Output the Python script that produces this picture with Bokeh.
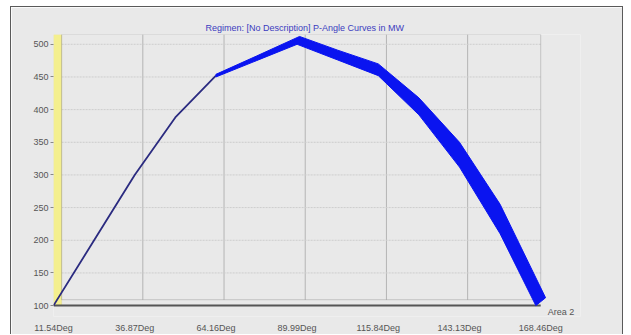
from bokeh.plotting import figure
from bokeh.models import BoxAnnotation, Label, FixedTicker, Range1d
from bokeh.embed import file_html
from bokeh.resources import INLINE

# ---- data ----
tick_pos = [0, 1, 2, 3, 4, 5, 6]
tick_labels = ["11.54Deg", "36.87Deg", "64.16Deg", "89.99Deg",
               "115.84Deg", "143.13Deg", "168.46Deg"]
y_ticks = [100, 150, 200, 250, 300, 350, 400, 450, 500]

thin_x = [0, 0.5, 1, 1.5, 2]
thin_y = [100, 200, 300, 388, 452]

upper_x = [2, 2.5, 3.03, 3.5, 4, 4.5, 5, 5.5, 6.06]
upper_y = [454, 482, 512, 491, 470, 418, 350, 255, 112]
lower_x = [2, 2.5, 3, 3.5, 4, 4.5, 5, 5.5, 5.94]
lower_y = [450, 475, 500, 476, 452, 392, 312, 210, 100]

title_text = "Regimen: [No Description] P-Angle Curves in MW"
series_name = "Area 2"

FONT = "Liberation Sans"
Y_TOP = 515
FRAME_LEFT = 0.1      # inner frame left edge (index units)
FRAME_BOTTOM = 109    # inner frame bottom edge (MW)

p = figure(width=613, height=328, output_backend="svg", toolbar_location=None,
           x_range=Range1d(0, 6.49), y_range=Range1d(83.3, Y_TOP),
           min_border_left=42, min_border_right=44, min_border_top=27,
           min_border_bottom=17)
p.margin = (6, 0, 0, 10)
p.styles = {"border-left": "1px solid #5a5a5a", "border-top": "1px solid #5a5a5a",
            "border-right": "1px solid #5a5a5a"}
p.background_fill_color = "#e9e9e9"
p.border_fill_color = "#e9e9e9"
p.outline_line_color = None

# title
p.title.text = title_text
p.title.align = "left"
p.title.offset = 152
p.title.text_font = FONT
p.title.text_font_size = "9px"
p.title.text_font_style = "normal"
p.title.text_color = "#3c3cc0"
p.title.standoff = 3

# axes
p.xaxis.ticker = FixedTicker(ticks=tick_pos)
p.xaxis.major_label_overrides = {t: l for t, l in zip(tick_pos, tick_labels)}
p.yaxis.ticker = FixedTicker(ticks=y_ticks)
for ax in (p.xaxis, p.yaxis):
    ax.major_label_text_font = FONT
    ax.major_label_text_font_size = "9px"
    ax.major_label_text_color = "#555555"
    ax.minor_tick_line_color = None
    ax.axis_line_color = None
p.xaxis.major_tick_line_color = None
p.xaxis.major_label_standoff = 0
p.yaxis.major_tick_line_color = "#888888"
p.yaxis.major_tick_out = 3
p.yaxis.major_tick_in = 0
p.yaxis.major_label_standoff = 2

# grids drawn inside the inner frame
p.xgrid.grid_line_color = None
p.ygrid.grid_line_color = None
gx = [t + FRAME_LEFT for t in tick_pos[1:-1]]
p.segment(x0=gx, y0=[FRAME_BOTTOM] * len(gx), x1=gx, y1=[Y_TOP] * len(gx),
          line_color="#b4b4b4", line_width=1, level="underlay")
gy = y_ticks[1:]
p.segment(x0=[FRAME_LEFT] * len(gy), y0=gy, x1=[tick_pos[-1]] * len(gy), y1=gy,
          line_color="#cdcdcd", line_width=1, line_dash="2 1", level="underlay")

# yellow wall on left
p.add_layout(BoxAnnotation(left=tick_pos[0], right=FRAME_LEFT, bottom=y_ticks[0],
                           fill_color="#f4ef8e", fill_alpha=1,
                           line_color="#cfc67a", line_width=1, level="underlay"))
# inner frame
p.add_layout(BoxAnnotation(left=FRAME_LEFT, right=tick_pos[-1], bottom=FRAME_BOTTOM,
                           fill_alpha=0, line_color="#6e6e6e", line_width=1,
                           level="underlay"))
# bottom axis line
p.line([tick_pos[0], tick_pos[-1]], [y_ticks[0], y_ticks[0]],
       line_color="#555555", line_width=2)

# curves
p.line(thin_x, thin_y, line_color="#2b2b80", line_width=1.8)
p.patch(upper_x + lower_x[::-1], upper_y + lower_y[::-1],
        fill_color="#0a14f0", line_color="#0a14f0", line_width=1)

p.add_layout(Label(x=tick_pos[-1], y=y_ticks[0], x_offset=7, y_offset=-1,
                   text=series_name, text_font=FONT, text_font_size="9px",
                   text_color="#555555", text_baseline="top"))

open("out.html", "w").write(file_html(p, INLINE))
